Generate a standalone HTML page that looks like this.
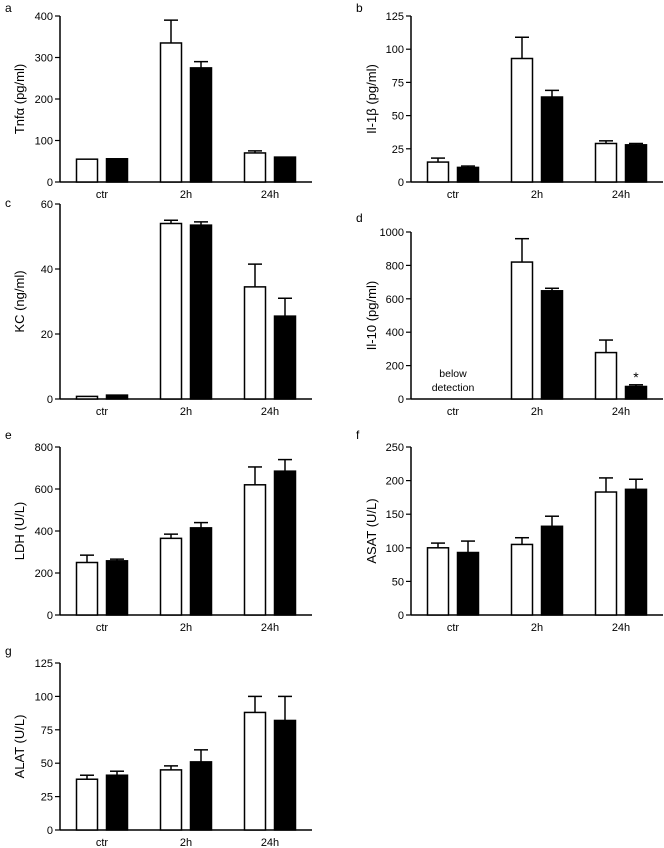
<!DOCTYPE html>
<html><head><meta charset="utf-8"><style>
html,body{margin:0;padding:0;background:#fff;}
svg{display:block;font-family:"Liberation Sans","DejaVu Sans",sans-serif;}
</style></head><body>
<svg id="fig" width="664" height="848" viewBox="0 0 664 848"></svg>
<script>
const categories = ["ctr","2h","24h"];
const panelLetters = ["a","b","c","d","e","f","g"];
const yTitles = ["Tnf\u03b1 (pg/ml)","Il-1\u03b2 (pg/ml)","KC (ng/ml)","Il-10 (pg/ml)","LDH (U/L)","ASAT (U/L)","ALAT (U/L)"];
const yMax = [400,125,60,1000,800,250,125];
const yTickStep = [100,25,20,200,200,50,25];
const whiteVals = [[55,335,70],[15,93,29],[0.8,54,34.5],[null,820,278],[250,365,620],[100,105,183],[38,45,88]];
const whiteErr = [[0,55,5],[3,16,2],[0,1,7],[null,140,75],[35,20,85],[7,10,21],[3,3,12]];
const blackVals = [[56,275,60],[11,64,28],[1.2,53.5,25.5],[null,648,75],[258,415,685],[93,132,187],[41,51,82]];
const blackErr = [[0,15,0],[1,5,1],[0,1,5.5],[null,15,10],[8,25,55],[17,15,15],[3,9,18]];

const layout = [
 {ax:60,top:16,bot:182,lx:5,ly:12,tx:20},
 {ax:411,top:16,bot:182,lx:356,ly:12,tx:372},
 {ax:60,top:204,bot:399,lx:5,ly:207,tx:20},
 {ax:411,top:232,bot:399,lx:356,ly:222,tx:372},
 {ax:60,top:447,bot:615,lx:5,ly:439,tx:20},
 {ax:411,top:447,bot:615,lx:356,ly:439,tx:372},
 {ax:60,top:663,bot:830,lx:5,ly:655,tx:20}
];
const svg=document.getElementById('fig');
const NS="http://www.w3.org/2000/svg";
function mk(tag,attrs,parent){const e=document.createElementNS(NS,tag);for(const k in attrs)e.setAttribute(k,attrs[k]);parent.appendChild(e);return e;}
const groupOff=[42,126,210];
for(let p=0;p<7;p++){
 const L=layout[p];
 const g=mk('g',{},svg);
 
 
 const y=v=>L.bot-(v/yMax[p])*(L.bot-L.top);
 const letter=mk('text',{x:L.lx,y:L.ly,'font-size':12,fill:'#000'},g);letter.textContent=panelLetters[p];
 
 
 const yaxis=mk('line',{x1:L.ax,y1:L.top,x2:L.ax,y2:L.bot,stroke:'#000','stroke-width':1.5},g);
 
 
 const xaxis=mk('line',{x1:L.ax,y1:L.bot,x2:L.ax+252,y2:L.bot,stroke:'#000','stroke-width':1.5},g);
 
 
 for(let v=0;v<=yMax[p]+1e-9;v+=yTickStep[p]){
  mk('line',{x1:L.ax-5,y1:y(v),x2:L.ax,y2:y(v),stroke:'#000','stroke-width':1.2},g);
  const t=mk('text',{x:L.ax-7,y:y(v)+4,'font-size':11,'text-anchor':'end',fill:'#000'},g);t.textContent=v;
  
  
 }
 const cy=(L.top+L.bot)/2;
 const tt=mk('text',{x:L.tx,y:cy,'font-size':13,'text-anchor':'middle',fill:'#000',transform:`rotate(-90 ${L.tx} ${cy})`,dy:4},g);
 tt.textContent=yTitles[p];
 
 
 for(let c=0;c<3;c++){
  const cx=L.ax+groupOff[c];
  const xl=mk('text',{x:cx,y:L.bot+16,'font-size':11,'text-anchor':'middle',fill:'#000'},g);xl.textContent=categories[c];
  
  
  [[whiteVals,whiteErr,'#fff',-15,'white'],[blackVals,blackErr,'#000',15,'black']].forEach(([V,E,fill,off,nm])=>{
   const v=V[p][c]; if(v===null) return;
   const bx=cx+off-10.5;
   const e=E[p][c];
   if(e>0){
    mk('line',{x1:cx+off,y1:y(v),x2:cx+off,y2:y(v+e),stroke:'#000','stroke-width':1.5},g);
    mk('line',{x1:cx+off-7,y1:y(v+e),x2:cx+off+7,y2:y(v+e),stroke:'#000','stroke-width':1.5},g);
   }
   const r=mk('rect',{x:bx,y:y(v),width:21,height:L.bot-y(v),fill:fill,stroke:'#000','stroke-width':1.5},g);
   
   
  });
 }
 if(p===3){
  const b1=mk('text',{x:L.ax+42,y:L.bot-22,'font-size':10.5,'text-anchor':'middle',fill:'#000'},g);b1.textContent='below';
  
  
  const b2=mk('text',{x:L.ax+42,y:L.bot-8,'font-size':10.5,'text-anchor':'middle',fill:'#000'},g);b2.textContent='detection';
  
  
  const s=mk('text',{x:L.ax+225,y:y(blackVals[3][2]+blackErr[3][2])-3,'font-size':14,'text-anchor':'middle',fill:'#000'},g);s.textContent='*';
  
  
 }
}
</script>
</body></html>
